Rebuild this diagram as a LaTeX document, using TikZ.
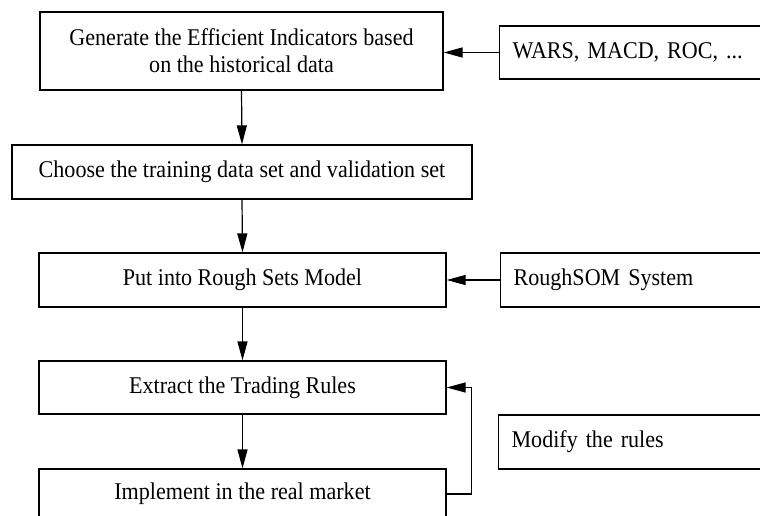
\documentclass[tikz,border=0pt]{standalone}
\usepackage{fontspec}
\setmainfont[FakeStretch=0.92]{Liberation Serif}
\usetikzlibrary{arrows.meta,calc}

\begin{document}
\begin{tikzpicture}[x=1pt,y=-1pt,
  line width=1.2pt,
  every node/.style={font=\fontsize{24}{27}\selectfont},
  stepbox/.style={draw, rectangle, inner sep=0pt, align=center},
  sidebox/.style={draw, rectangle, inner sep=0pt, anchor=west,
    minimum width=300pt, minimum height=54pt, text width=274pt,
    align=left},
  arr/.style={-{Triangle[length=19pt,width=10pt]}}
]
% canvas
\useasboundingbox (0,0) rectangle (760,516);
\clip (0,0) rectangle (760,516);

% main flow
\node[stepbox, minimum width=403pt, minimum height=78pt] (b1) at (241.5,51)
  {Generate the Efficient Indicators based\\on the historical data};
\node[stepbox, minimum width=460pt, minimum height=54pt] (b2) at (242,172)
  {Choose the training data set and validation set};
\node[stepbox, minimum width=407pt, minimum height=54pt] (b3) at (242.5,280)
  {Put into Rough Sets Model};
\node[stepbox, minimum width=407pt, minimum height=53pt] (b4) at (242.5,387.5)
  {Extract the Trading Rules};
\node[stepbox, minimum width=407pt, minimum height=50pt] (b5) at (242.5,494)
  {Implement in the real market};

% side inputs
\node[sidebox, minimum height=53pt] (wars) at (499,52.5) {WARS, MACD, ROC, ...};
\node[sidebox] (rs) at (500,280) {RoughSOM System};
\node[sidebox] (md) at (498,442) {Modify the rules};

% connectors
\draw[arr] (b1.south) -- (b2.north);
\draw[arr] (b2.south) -- (b3.north);
\draw[arr] (b3.south) -- (b4.north);
\draw[arr] (b4.south) -- (b5.north);
\draw[arr] (wars.west) -- (wars.west -| b1.east);
\draw[arr] (rs.west) -- (b3.east);
\coordinate (loop) at ($(b5.east)+(25,0)$);
\draw[arr] (b5.east) -- (loop) |- (b4.east);
\end{tikzpicture}
\end{document}
